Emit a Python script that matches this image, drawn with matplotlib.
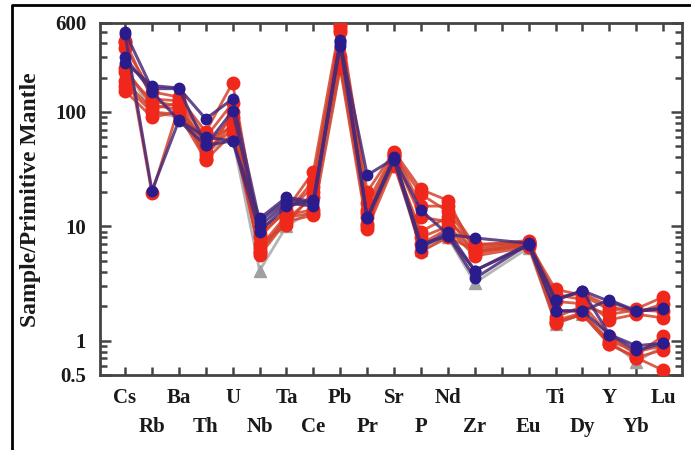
import numpy as np
import matplotlib
matplotlib.use("Agg")
import matplotlib.pyplot as plt
from matplotlib.lines import Line2D
from matplotlib.ticker import FixedLocator, NullFormatter, LogLocator

elements = ["Cs", "Rb", "Ba", "Th", "U", "Nb", "Ta", "Ce", "Pb", "Pr", "Sr",
            "P", "Nd", "Zr", "", "Eu", "Ti", "Dy", "Y", "Yb", "Lu"]

nan = np.nan
blue_series = [
    [480, 20.5, 84, 51, 56, 11.7, 17.9, 16.5, 430, 11.7, 39, 6.7, 8.3, 4.1, nan, 7.0, 2.27, 2.73, 1.13, 0.9, 0.95],
    [270, 170, 162, 87, 130, 11.0, 17.0, 16.0, 400, 28, 39, 13.8, 8.5, 7.9, nan, 7.1, 1.82, 1.82, 2.27, 1.82, 1.93],
    [500, 160, 160, 51, 102, 10.0, 16.0, 15.0, 420, 12, 40, 7.0, 8.3, 3.5, nan, 7.0, 2.27, 2.73, 2.2, 1.8, 1.9],
    [300, 150, 85, 60, 56, 9.0, 15.0, 17.0, 380, 11.7, 38, 6.5, 9.0, 4.1, nan, 6.8, 1.82, 1.82, 1.13, 0.82, 0.95],
]
red_series = [
    [410, 19.4, 110, 45, 70, 6.0, 12.0, 13.0, 550, 10.0, 42, 6.0, 8.0, 6.2, nan, 7.2, 1.43, 1.7, 0.93, 0.71, 0.83],
    [365, 150, 135, 67, 180, 8.0, 14.0, 30.0, 600, 20.0, 45, 21.0, 16.8, 6.0, nan, 7.0, 2.8, 2.5, 1.86, 1.9, 2.4],
    [222, 125, 112, 39, 100, 9.6, 13.0, 25.0, 500, 14.0, 42, 19.0, 13.5, 6.5, nan, 7.3, 2.5, 2.3, 1.52, 1.7, 1.58],
    [186, 106, 120, 50, 90, 7.0, 10.2, 20.0, 260, 12.0, 36, 9.0, 12.0, 5.8, nan, 6.9, 1.43, 1.7, 0.93, 0.71, 0.55],
    [153, 90, 100, 42, 80, 5.6, 11.0, 12.5, 240, 9.5, 34, 7.0, 9.5, 5.5, nan, 6.6, 2.2, 2.1, 1.1, 0.75, 1.1],
    [420, 130, 125, 60, 120, 6.5, 12.5, 14.0, 580, 16.0, 44, 15.0, 15.0, 6.8, nan, 7.5, 2.4, 2.6, 2.0, 1.75, 2.1],
    [240, 115, 105, 55, 75, 8.5, 13.5, 22.0, 520, 13.0, 40, 12.0, 11.0, 7.0, nan, 7.1, 1.6, 2.0, 1.7, 1.85, 1.8],
    [170, 100, 95, 38, 65, 6.0, 11.5, 18.0, 300, 10.5, 38, 8.0, 10.0, 6.0, nan, 6.8, 1.5, 1.75, 1.0, 0.8, 0.9],
]
gray_series = [
    [250, 100, 90, 45, 60, 4.1, 10.0, 14.0, 250, 11.0, 36, 6.2, 8.0, 3.2, nan, 6.5, 1.4, 1.7, 1.0, 0.65, 0.9],
]

ytick_values = [0.5, 1, 10, 100, 600]
ytick_labels = ["0.5", "1", "10", "100", "600"]

W, H = 691, 450
fig = plt.figure(figsize=(W / 100, H / 100), dpi=100)
ax = fig.add_axes([100 / W, 1 - 375 / H, (682 - 100) / W, (375 - 23) / H])

x = np.arange(len(elements))

def draw(series, mcolor, lcolor, marker, ms, lw, z):
    for s in series:
        arr = np.array(s, dtype=float)
        m = ~np.isnan(arr)
        ax.plot(x[m], arr[m], color=lcolor, lw=lw, zorder=z, alpha=0.85)
        ax.plot(x[m], arr[m], ls="none", marker=marker, ms=ms, mfc=mcolor,
                mec=mcolor, zorder=z + 0.5)

draw(gray_series, "#a0a0a0", "#a8a8a8", "^", 8, 2.0, 2)
draw(red_series, "#f0281c", "#d4442e", "o", 9, 2.0, 3)
draw(blue_series, "#2a1c8c", "#4a2a78", "o", 7.5, 2.2, 4)

ax.set_yscale("log")
ax.set_ylim(0.5, 600)
ax.set_xlim(-0.93, 20.7)

serif = ["Liberation Serif", "DejaVu Serif"]
ax.yaxis.set_major_locator(FixedLocator(ytick_values))
ax.set_yticklabels(ytick_labels, fontfamily=serif, fontweight="bold", fontsize=15,
                   color="#1a1a1a")
ax.yaxis.set_minor_locator(LogLocator(base=10, subs=np.arange(2, 10)))
ax.yaxis.set_minor_formatter(NullFormatter())

ax.set_xticks(x)
ax.set_xticklabels([])
for i, el in enumerate(elements):
    yoff = -0.064 if i % 2 == 0 else -0.147
    ax.text(i, yoff, el, transform=ax.get_xaxis_transform(), ha="center", va="center",
            fontfamily=serif, fontweight="bold", fontsize=15, color="#1a1a1a")

ax.tick_params(axis="both", which="both", direction="in", top=True, right=True,
               color="#444444", width=1.8)
ax.tick_params(axis="x", which="major", length=6)
ax.tick_params(axis="y", which="major", length=8, pad=10)
ax.tick_params(axis="y", which="minor", length=5)
for sp in ax.spines.values():
    sp.set_linewidth(2.0)
    sp.set_color("#444444")

fig.text(31 / W, 1 - 200 / H, "Sample/Primitive Mantle", rotation=90, ha="center", va="center",
         fontfamily=serif, fontweight="bold", fontsize=17, color="#1a1a1a")

fig.add_artist(Line2D([12 / W, 12 / W, 1.0], [0.0, 1 - 5 / H, 1 - 5 / H],
                      transform=fig.transFigure, color="black", lw=2))

fig.savefig("out.png", dpi=100)
